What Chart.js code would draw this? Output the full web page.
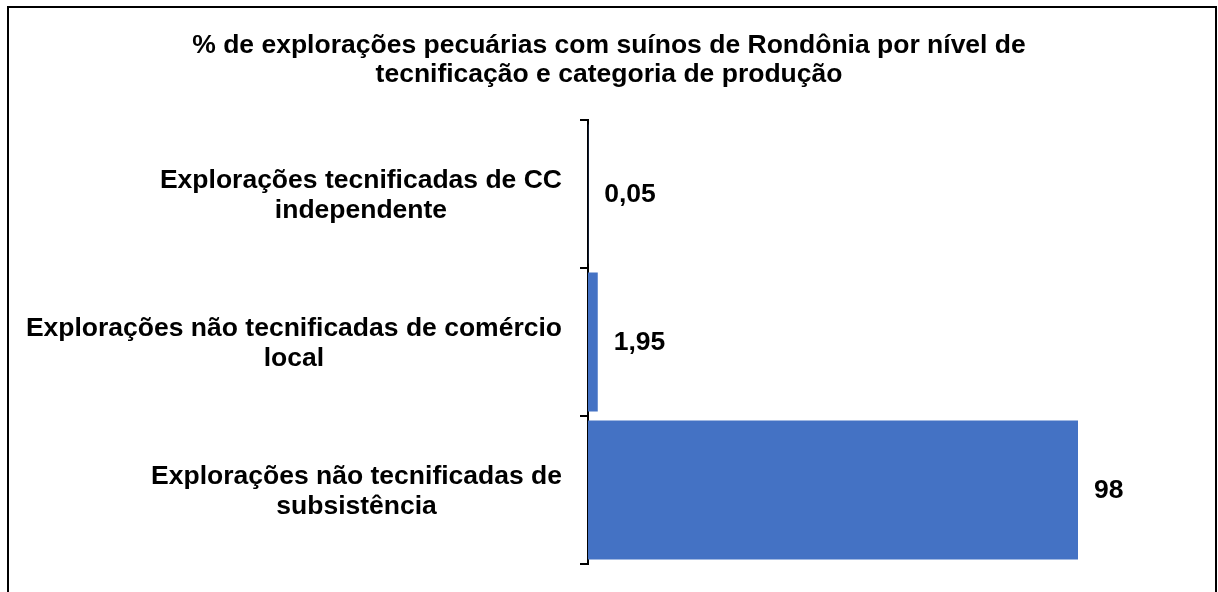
<!DOCTYPE html>
<html lang="pt">
<head>
    <meta charset="UTF-8">
    <title>Explorações pecuárias com suínos - Rondônia</title>
    <script src="https://cdn.jsdelivr.net/npm/chart.js"></script>
    <style>
        html, body {
            margin: 0;
            padding: 0;
            background-color: #fff;
        }
        .wrap {
            position: relative;
            width: 1218px;
            height: 592px;
            overflow: hidden;
        }
        .frame {
            position: absolute;
            left: 7px;
            top: 6px;
            width: 1210px;
            height: 620px;
            border: 2px solid #000;
            box-sizing: border-box;
        }
        canvas {
            position: absolute;
            left: 0;
            top: 0;
        }
    </style>
</head>
<body>

<div class="wrap">
    <div class="frame"></div>
    <canvas id="suinosChart" width="1218" height="592"></canvas>
</div>

<script>
const FONT = "'Liberation Sans', Arial, sans-serif";
const FSIZE = 26.5;

// categorias de cima para baixo
const categorias = [
    ['Explorações tecnificadas de CC', 'independente'],
    ['Explorações não tecnificadas de comércio', 'local'],
    ['Explorações não tecnificadas de', 'subsistência']
];
const valores = [0.05, 1.95, 98];

// rótulos das categorias (cada bloco centrado em si mesmo, alinhado à direita)
const categoryLabels = {
    id: 'categoryLabels',
    afterDraw(chart) {
        const ctx = chart.ctx;
        const yScale = chart.scales.y;
        const rightEdge = chart.chartArea.left - 26;
        const lineH = 30;
        ctx.save();
        ctx.font = 'bold ' + FSIZE + 'px ' + FONT;
        ctx.fillStyle = '#000';
        ctx.textAlign = 'center';
        ctx.textBaseline = 'middle';
        categorias.forEach((linhas, i) => {
            const yc = yScale.getPixelForValue(i) + 2;
            const maxW = Math.max(...linhas.map(l => ctx.measureText(l).width));
            const xc = rightEdge - maxW / 2;
            const y0 = yc - (linhas.length - 1) * lineH / 2;
            linhas.forEach((l, j) => ctx.fillText(l, xc, y0 + j * lineH));
        });
        ctx.restore();
    }
};

// rótulos de valor à direita das barras
const valueLabels = {
    id: 'valueLabels',
    afterDatasetsDraw(chart) {
        const ctx = chart.ctx;
        const meta = chart.getDatasetMeta(0);
        ctx.save();
        ctx.font = 'bold ' + FSIZE + 'px ' + FONT;
        ctx.fillStyle = '#000';
        ctx.textAlign = 'left';
        ctx.textBaseline = 'middle';
        meta.data.forEach((bar, i) => {
            const txt = String(valores[i]).replace('.', ',');
            ctx.fillText(txt, bar.x + 16, bar.y + 1);
        });
        ctx.restore();
    }
};

const ctx = document.getElementById('suinosChart').getContext('2d');
new Chart(ctx, {
    type: 'bar',
    data: {
        labels: categorias.map(c => c.join(' ')),
        datasets: [{
            data: valores,
            backgroundColor: '#4472C4',
            borderWidth: 0,
            barPercentage: 0.94,
            categoryPercentage: 1.0
        }]
    },
    options: {
        indexAxis: 'y',
        responsive: false,
        animation: false,
        layout: {
            padding: { left: 0, right: 0, top: 0, bottom: 28 }
        },
        plugins: {
            legend: { display: false },
            tooltip: { enabled: false },
            title: {
                display: true,
                text: ['% de explorações pecuárias com suínos de Rondônia por nível de',
                       'tecnificação e categoria de produção'],
                color: '#000',
                font: { family: FONT, size: FSIZE, weight: 'bold', lineHeight: '29px' },
                padding: { top: 31.5, bottom: 30.5 }
            }
        },
        scales: {
            x: {
                display: false,
                min: 0,
                max: 126
            },
            y: {
                offset: true,
                ticks: { display: false },
                grid: {
                    offset: true,
                    drawOnChartArea: false,
                    drawTicks: true,
                    tickLength: 8,
                    color: '#000',
                    lineWidth: 2
                },
                border: { display: true, color: '#000', width: 2 },
                afterFit(scale) {
                    scale.width = 588;
                }
            }
        }
    },
    plugins: [categoryLabels, valueLabels]
});
</script>

</body>
</html>
